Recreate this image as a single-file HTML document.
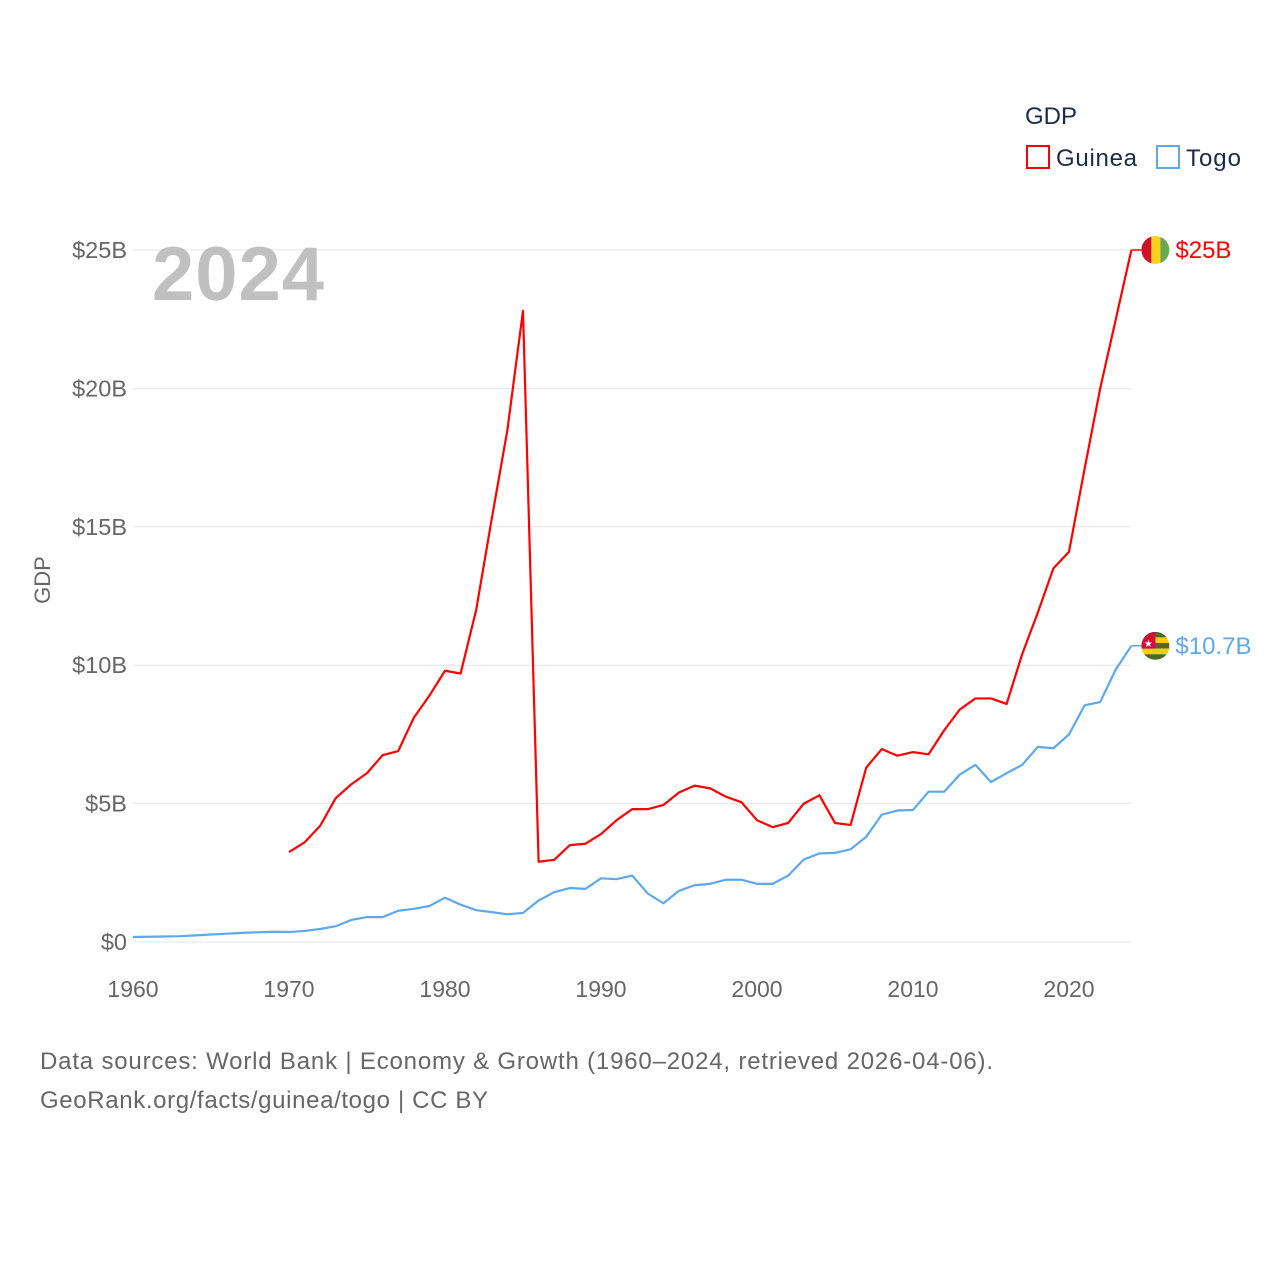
<!DOCTYPE html>
<html><head><meta charset="utf-8"><style>
body{margin:0;background:#fff;font-family:"Liberation Sans",sans-serif}
svg text{font-family:"Liberation Sans",sans-serif}
</style></head><body>
<svg id="chart" width="1280" height="1280" viewBox="0 0 1280 1280">
<g id="grid"></g><g id="axes"></g><g id="lines"></g>
<text x="152" y="300" font-size="76" font-weight="bold" fill="#c0c0c0" textLength="172">2024</text>
<text x="50" y="580" font-size="22" fill="#666" transform="rotate(-90 50 580)" text-anchor="middle">GDP</text>
<text x="1025" y="124" font-size="24" fill="#1b2a4a">GDP</text>
<g><rect x="1027" y="146" width="22" height="22" fill="none" stroke="#ff0000" stroke-width="2"/><text x="1056" y="166" font-size="24" fill="#1b2a4a" textLength="81">Guinea</text></g>
<g><rect x="1157" y="146" width="22" height="22" fill="none" stroke="#5ea8ee" stroke-width="2"/><text x="1186" y="166" font-size="24" fill="#1b2a4a" textLength="55">Togo</text></g>
<text x="40" y="1069" font-size="24" fill="#666" textLength="953">Data sources: World Bank | Economy &amp; Growth (1960–2024, retrieved 2026-04-06).</text>
<text x="40" y="1108" font-size="24" fill="#666" textLength="448">GeoRank.org/facts/guinea/togo | CC BY</text>
</svg>
<script>
const years=[];for(let y=1960;y<=2024;y++)years.push(y);
const togo=[0.18,0.19,0.2,0.21,0.24,0.27,0.3,0.33,0.35,0.37,0.36,0.4,0.47,0.57,0.8,0.9,0.9,1.13,1.2,1.3,1.6,1.35,1.15,1.08,1.0,1.05,1.5,1.8,1.95,1.92,2.3,2.27,2.4,1.75,1.4,1.85,2.05,2.1,2.25,2.25,2.1,2.1,2.4,2.98,3.2,3.22,3.35,3.8,4.6,4.75,4.77,5.43,5.43,6.05,6.4,5.78,6.1,6.4,7.05,7.0,7.5,8.55,8.67,9.85,10.7];
const guineaStart=1970;
const guinea=[3.25,3.6,4.2,5.2,5.7,6.1,6.75,6.9,8.1,8.9,9.8,9.7,12.0,15.3,18.5,22.8,2.9,2.97,3.5,3.55,3.9,4.4,4.8,4.8,4.95,5.4,5.65,5.55,5.25,5.05,4.4,4.15,4.3,5.0,5.3,4.3,4.23,6.3,6.97,6.73,6.86,6.78,7.65,8.4,8.8,8.8,8.6,10.4,11.9,13.5,14.1,17.1,20.0,22.5,25.0];
const yTicks=[0,5,10,15,20,25];
const yTickLabels=["$0","$5B","$10B","$15B","$20B","$25B"];
const xTicks=[1960,1970,1980,1990,2000,2010,2020];
const X=y=>133+(y-1960)*15.6;
const Y=v=>942-v*27.68;
const NS='http://www.w3.org/2000/svg';
function mk(tag,attrs,parent,txt){const e=document.createElementNS(NS,tag);for(const k in attrs)e.setAttribute(k,attrs[k]);if(txt!==undefined)e.textContent=txt;document.getElementById(parent).appendChild(e);return e;}
yTicks.forEach((v,i)=>{
 const l=mk('line',{x1:133,x2:1131,y1:Y(v),y2:Y(v),stroke:'#e6e6e6','stroke-width':1},'grid');
 
 
 const t=mk('text',{x:127,y:Y(v)+8,'font-size':23.5,fill:'#666','text-anchor':'end'},'axes',yTickLabels[i]);
 
 
});
xTicks.forEach(yr=>{
 const t=mk('text',{x:X(yr),y:997,'font-size':23,fill:'#666','text-anchor':'middle'},'axes',yr);
 
 
});
const pt=togo.map((v,i)=>X(years[i])+','+Y(v)).join(' ');
const lt=mk('polyline',{points:pt,fill:'none',stroke:'#5ea8ee','stroke-width':2.2,'stroke-linejoin':'round'},'lines');


const pg=guinea.map((v,i)=>X(guineaStart+i)+','+Y(v)).join(' ');
const lg=mk('polyline',{points:pg,fill:'none',stroke:'#ff0000','stroke-width':2.2,'stroke-linejoin':'round'},'lines');


function endLabel(v,color,txt,name,flag){
 const yy=Y(v),x0=X(2024);
 mk('line',{x1:x0,x2:x0+10,y1:yy,y2:yy,stroke:color,'stroke-width':1.5},'lines');
 const cx=x0+24;
 const g=mk('g',{},'lines');
 
 
 const cp=mk('clipPath',{id:'c'+name},'lines');
 const c=document.createElementNS(NS,'circle');c.setAttribute('cx',cx);c.setAttribute('cy',yy);c.setAttribute('r',14);cp.appendChild(c);
 g.setAttribute('clip-path','url(#c'+name+')');
 flag(g,cx,yy);
 const t=mk('text',{x:cx+20,y:yy+8,'font-size':24,fill:color},'lines',txt);
 
 
}
function r(g,a){const e=document.createElementNS(NS,'rect');for(const k in a)e.setAttribute(k,a[k]);g.appendChild(e);}
endLabel(guinea[guinea.length-1],'#ff0000','$25B','guinea',(g,cx,cy)=>{
 r(g,{x:cx-14,y:cy-14,width:10,height:28,fill:'#ce1126'});
 r(g,{x:cx-4,y:cy-14,width:9,height:28,fill:'#fcd116'});
 r(g,{x:cx+5,y:cy-14,width:10,height:28,fill:'#6aa84f'});
});
endLabel(togo[togo.length-1],'#5ea8ee','$10.7B','togo',(g,cx,cy)=>{
 for(let i=0;i<5;i++)r(g,{x:cx-14,y:cy-14+i*5.6,width:28,height:5.6,fill:i%2?'#ffce00':'#4a6b2a'});
 r(g,{x:cx-14,y:cy-14,width:14,height:16.8,fill:'#d21034'});
 const s=document.createElementNS(NS,'text');s.setAttribute('x',cx-7);s.setAttribute('y',cy+1);s.setAttribute('font-size',10);s.setAttribute('fill','#fff');s.setAttribute('text-anchor','middle');s.textContent='★';g.appendChild(s);
});
</script>
</body></html>
